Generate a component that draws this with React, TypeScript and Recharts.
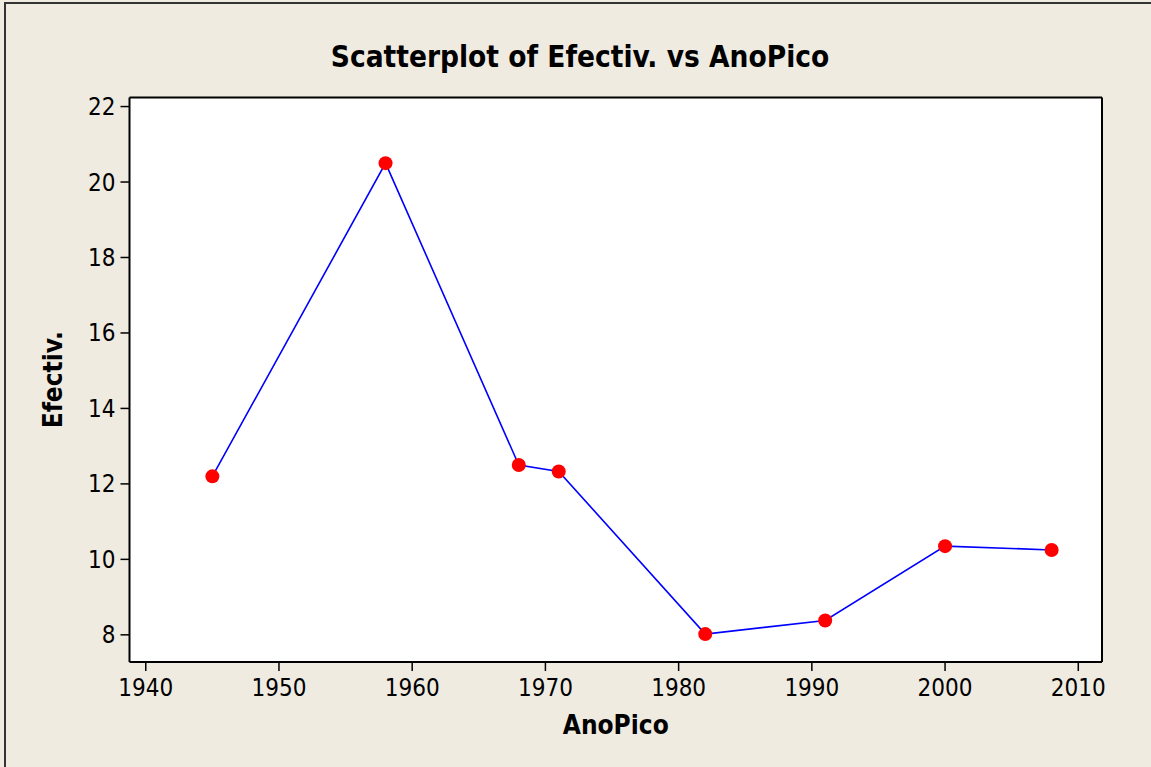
import React from 'react';
import { LineChart, Line, XAxis, YAxis, CartesianGrid, Label, ReferenceLine } from 'recharts';

const years = [1945, 1958, 1968, 1971, 1982, 1991, 2000, 2008];
const efectiv = [12.2, 20.5, 12.5, 12.33, 8.02, 8.38, 10.35, 10.25];
const xTicks = [1940, 1950, 1960, 1970, 1980, 1990, 2000, 2010];
const yTicks = [8, 10, 12, 14, 16, 18, 20, 22];

const data = years.map((y, i) => ({ year: y, value: efectiv[i] }));

const FONT = "'DejaVu Sans Condensed', 'DejaVu Sans', Tahoma, sans-serif";
const BG = '#EFEBE1';
const X_DOMAIN: [number, number] = [1938.78, 2011.78];
const Y_DOMAIN: [number, number] = [7.28, 22.24];

const App = () => {
  return (
    <div style={{ position: 'absolute', left: 0, top: 0, width: 1151, height: 767, background: BG, overflow: 'hidden' }}>
      <div
        style={{
          position: 'absolute',
          left: 4,
          top: 2,
          width: 1160,
          height: 780,
          borderLeft: '2px solid #333',
          borderTop: '2px solid #333',
        }}
      />
      <div
        style={{
          position: 'absolute',
          left: 0,
          top: 39,
          width: 1160,
          textAlign: 'center',
          fontFamily: FONT,
          fontWeight: 'bold',
          fontSize: 29.5,
          lineHeight: '36px',
          color: '#000',
        }}
      >
        Scatterplot of Efectiv. vs AnoPico
      </div>
      <div style={{ position: 'absolute', left: 0, top: 0 }}>
        <LineChart width={1151} height={767} data={data} margin={{ top: 97.5, right: 49, bottom: 0, left: 0 }}>
          <CartesianGrid fill="#fff" horizontal={false} vertical={false} />
          <XAxis
            dataKey="year"
            type="number"
            domain={X_DOMAIN}
            ticks={xTicks}
            height={105}
            tickSize={9}
            tickMargin={8}
            axisLine={{ stroke: '#000', strokeWidth: 2 }}
            tickLine={{ stroke: '#000', strokeWidth: 1.5 }}
            tick={{ fill: '#000', fontSize: 24, fontFamily: FONT }}
            allowDataOverflow
          >
            <Label
              value="AnoPico"
              position="insideBottom"
              offset={33}
              style={{ fill: '#000', fontSize: 26, fontWeight: 'bold', fontFamily: FONT }}
            />
          </XAxis>
          <YAxis
            type="number"
            domain={Y_DOMAIN}
            ticks={yTicks}
            width={129.5}
            tickSize={9}
            tickMargin={5}
            axisLine={{ stroke: '#000', strokeWidth: 2 }}
            tickLine={{ stroke: '#000', strokeWidth: 1.5 }}
            tick={{ fill: '#000', fontSize: 24, fontFamily: FONT }}
            allowDataOverflow
          >
            <Label
              value="Efectiv."
              angle={-90}
              position="insideLeft"
              offset={53}
              style={{ fill: '#000', fontSize: 26, fontWeight: 'bold', fontFamily: FONT, textAnchor: 'middle' }}
            />
          </YAxis>
          <ReferenceLine y={Y_DOMAIN[1]} stroke="#000" strokeWidth={2} ifOverflow="visible" />
          <ReferenceLine x={X_DOMAIN[1]} stroke="#000" strokeWidth={2} ifOverflow="visible" />
          <Line
            type="linear"
            dataKey="value"
            stroke="#0000FF"
            strokeWidth={1.6}
            dot={{ r: 7, fill: '#FF0000', stroke: 'none' }}
            activeDot={false}
            isAnimationActive={false}
          />
        </LineChart>
      </div>
    </div>
  );
};

export default App;
